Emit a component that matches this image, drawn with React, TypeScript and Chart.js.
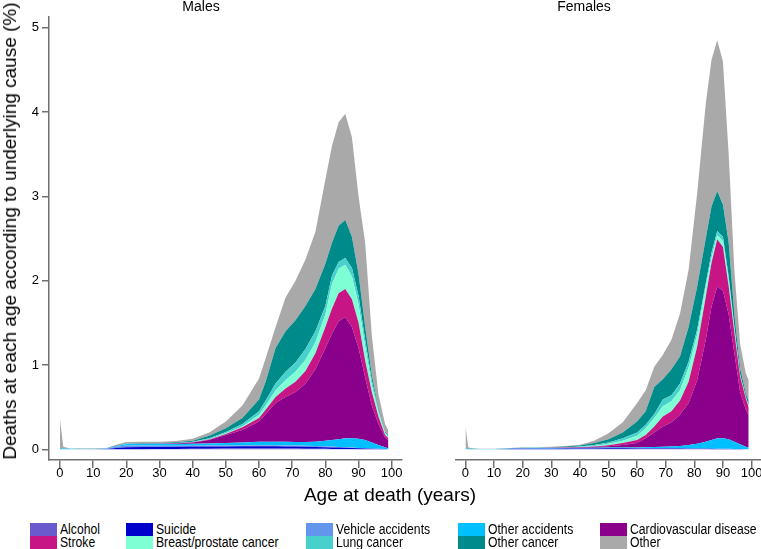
import React, { useEffect, useRef } from 'react';
import { Chart, registerables } from 'chart.js';
Chart.register(...registerables);

// ---------- data ----------
const CAUSES = ['Alcohol', 'Suicide', 'Vehicle accidents', 'Other accidents', 'Cardiovascular disease', 'Stroke', 'Breast/prostate cancer', 'Lung cancer', 'Other cancer', 'Other'];
const COLORS = ['#6A5ACD', '#0000CD', '#6495ED', '#00BFFF', '#8B008B', '#C71585', '#7FFFD4', '#48D1CC', '#008B8B', '#A9A9A9'];
const X_TICKS = [0, 10, 20, 30, 40, 50, 60, 70, 80, 90, 100];
const Y_TICKS = [0, 1, 2, 3, 4, 5];

const AGES_M = [0, 1, 3, 5, 10, 14, 17, 20, 25, 30, 35, 40, 45, 50, 55, 60, 62, 65, 68, 71, 74, 77, 80, 82, 84, 86, 88, 90, 92, 94, 96, 98, 99];
const M_ALCOHOL = [0, 0, 0, 0, 0, 0, 0, .001, .001, .002, .003, .005, .007, .009, .01, .01, .01, .01, .009, .008, .007, .006, .005, .004, .003, .002, .002, .001, .001, 0, 0, 0, 0];
const M_SUICIDE = [0, 0, 0, 0, .001, .004, .015, .024, .027, .026, .027, .027, .026, .025, .025, .025, .025, .025, .025, .024, .023, .022, .02, .018, .017, .015, .012, .01, .007, .006, .004, .002, .001];
const M_VEHICLE = [.002, .002, .001, .001, .001, .003, .015, .02, .017, .014, .012, .011, .011, .011, .011, .012, .012, .012, .012, .012, .012, .012, .011, .01, .008, .007, .006, .005, .004, .002, .002, .001, .001];
const M_OTHER_ACC = [.008, .006, .004, .003, .002, .003, .01, .017, .02, .02, .021, .023, .026, .03, .034, .043, .043, .043, .044, .041, .043, .05, .064, .078, .092, .106, .11, .109, .098, .072, .044, .022, .008];
const M_CVD = [0, 0, 0, 0, 0, 0, .001, .002, .002, .004, .007, .014, .04, .095, .15, .24, .33, .46, .53, .595, .695, .86, 1.1, 1.26, 1.4, 1.44, 1.32, 1.075, .74, .44, .25, .115, .1];
const M_STROKE = [0, 0, 0, 0, 0, 0, 0, 0, .001, .001, .002, .003, .005, .01, .03, .04, .05, .07, .1, .12, .15, .19, .25, .3, .33, .33, .33, .3, .2, .16, .09, .03, .02];
const M_BREAST_PROSTATE = [0, 0, 0, 0, 0, 0, 0, .001, .001, .001, .001, .002, .005, .01, .01, .04, .05, .08, .1, .12, .13, .13, .15, .29, .29, .29, .27, .22, .17, .08, .05, .02, .01];
const M_LUNG = [0, 0, 0, 0, 0, 0, 0, 0, 0, .001, .001, .003, .01, .015, .03, .04, .06, .08, .1, .11, .13, .13, .1, .1, .08, .08, .1, .1, .08, .06, .02, .01, .01];
const M_OTHER_CANCER = [.005, .004, .002, .002, .002, .002, .004, .005, .006, .007, .009, .014, .03, .045, .07, .14, .22, .42, .48, .5, .51, .5, .5, .39, .43, .45, .37, .26, .15, .06, .02, .01, .01];
const M_OTHER = [.335, .018, .003, .002, .002, .004, .01, .015, .015, .012, .014, .023, .04, .08, .15, .25, .28, .25, .4, .47, .55, .68, 1.0, 1.15, 1.23, 1.26, 1.18, .92, 1.0, .47, .17, .09, .06];

const AGES_F = [0, 1, 3, 5, 10, 14, 17, 20, 25, 30, 35, 40, 45, 50, 55, 60, 63, 66, 69, 72, 75, 78, 81, 84, 86, 88, 90, 92, 94, 96, 98, 99];
const F_ALCOHOL = [0, 0, 0, 0, 0, 0, 0, 0, 0, .001, .001, .002, .003, .004, .004, .004, .004, .004, .003, .003, .003, .002, .002, .002, .001, .001, .001, .001, 0, 0, 0, 0];
const F_SUICIDE = [0, 0, 0, 0, 0, .002, .005, .006, .006, .006, .007, .007, .007, .007, .007, .006, .006, .005, .006, .005, .005, .005, .004, .003, .004, .003, .003, .002, .003, .002, .001, .001];
const F_VEHICLE = [.001, .001, .001, .001, .001, .002, .004, .005, .004, .003, .003, .003, .003, .003, .003, .003, .003, .003, .003, .003, .003, .003, .003, .003, .002, .002, .002, .002, .001, .001, .001, .001];
const F_OTHER_ACC = [.007, .005, .003, .002, .002, .002, .003, .003, .004, .004, .004, .004, .005, .006, .007, .009, .011, .014, .018, .023, .029, .04, .056, .082, .103, .124, .124, .115, .086, .057, .028, .018];
const F_CVD = [0, 0, 0, 0, 0, 0, 0, .001, .001, .002, .003, .004, .008, .015, .029, .053, .106, .174, .24, .286, .37, .5, .755, 1.21, 1.58, 1.8, 1.75, 1.48, 1.05, .62, .44, .39];
const F_STROKE = [0, 0, 0, 0, 0, 0, 0, 0, .001, .001, .002, .003, .006, .013, .025, .035, .04, .07, .12, .13, .17, .25, .4, .51, .52, .56, .52, .33, .24, .18, .13, .09];
const F_BREAST_PROSTATE = [0, 0, 0, 0, 0, 0, 0, 0, .001, .002, .003, .004, .008, .017, .025, .05, .08, .1, .12, .12, .12, .17, .14, .12, .06, .05, .07, .07, .04, .01, .01, .01];
const F_LUNG = [0, 0, 0, 0, 0, 0, 0, 0, 0, .001, .002, .005, .01, .015, .03, .04, .04, .05, .08, .07, .08, .07, .06, .04, .06, .05, .05, .05, .03, .02, .01, .01];
const F_OTHER_CANCER = [.004, .003, .001, .001, .001, .002, .003, .003, .004, .005, .007, .013, .025, .04, .07, .13, .16, .32, .24, .31, .32, .41, .51, .53, .55, .47, .38, .4, .15, .07, .04, .05];
const F_OTHER = [.258, .011, .003, .002, .002, .003, .003, .004, .004, .005, .006, .01, .025, .07, .12, .22, .25, .24, .29, .35, .51, .68, 1.11, 1.6, 1.74, 1.79, 1.7, 1.05, .52, .29, .24, .25];

const MALE_SERIES = [M_ALCOHOL, M_SUICIDE, M_VEHICLE, M_OTHER_ACC, M_CVD, M_STROKE, M_BREAST_PROSTATE, M_LUNG, M_OTHER_CANCER, M_OTHER];
const FEMALE_SERIES = [F_ALCOHOL, F_SUICIDE, F_VEHICLE, F_OTHER_ACC, F_CVD, F_STROKE, F_BREAST_PROSTATE, F_LUNG, F_OTHER_CANCER, F_OTHER];

// ---------- styles ----------
const FONT = "'Liberation Sans', Arial, sans-serif";
const AXIS = '#707070';

type PanelProps = {
  ages: number[];
  series: number[][];
  title: string;
  showY: boolean;
  left: number;
  width: number;
  height: number;
  xMin: number;
  xMax: number;
  padLeft: number;
  padRight: number;
};

function Panel(p: PanelProps) {
  const ref = useRef<HTMLCanvasElement | null>(null);
  useEffect(() => {
    if (!ref.current) return;
    const datasets = p.series.map((vals, i) => ({
      label: CAUSES[i],
      data: p.ages.map((a, j) => ({ x: a, y: vals[j] })),
      backgroundColor: COLORS[i],
      borderColor: COLORS[i],
      borderWidth: 0,
      pointRadius: 0,
      tension: 0,
      fill: i === 0 ? 'origin' : '-1',
    }));
    const chart = new Chart(ref.current, {
      type: 'line',
      data: { datasets } as any,
      options: {
        animation: false,
        responsive: false,
        maintainAspectRatio: false,
        layout: { padding: { left: p.padLeft, right: p.padRight, top: 0, bottom: 0 } },
        plugins: {
          legend: { display: false },
          tooltip: { enabled: false },
          title: {
            display: true,
            text: p.title,
            color: '#000',
            font: { family: FONT, size: 14, weight: 'normal', lineHeight: 1 },
            padding: { top: 0, bottom: 3 },
          },
        },
        scales: {
          x: {
            type: 'linear',
            min: p.xMin,
            max: p.xMax,
            afterBuildTicks: (s: any) => { s.ticks = X_TICKS.map((v) => ({ value: v })); },
            afterFit: (s: any) => { s.height = 30; },
            grid: { display: true, drawOnChartArea: false, drawTicks: true, tickLength: 8, color: AXIS, lineWidth: 1.5 },
            border: { display: true, color: AXIS, width: 1.5 },
            ticks: { color: '#000', font: { family: FONT, size: 13 }, padding: -2, maxRotation: 0, autoSkip: false },
          },
          y: {
            type: 'linear',
            stacked: true,
            display: p.showY,
            min: -0.127,
            max: 5.127,
            afterBuildTicks: (s: any) => { s.ticks = Y_TICKS.map((v) => ({ value: v })); },
            afterFit: (s: any) => { s.width = 49; },
            grid: { display: true, drawOnChartArea: false, drawTicks: true, tickLength: 7, color: AXIS, lineWidth: 1.5 },
            border: { display: true, color: AXIS, width: 1.5 },
            ticks: { color: '#000', font: { family: FONT, size: 13 }, padding: 3 },
          },
        },
      } as any,
    });
    return () => chart.destroy();
  }, []);
  return (
    <canvas
      ref={ref}
      width={p.width}
      height={p.height}
      style={{ position: 'absolute', left: p.left, top: 0, width: p.width, height: p.height }}
    />
  );
}

const LEGEND_COLS = [30, 126, 306, 458, 600];
const LEGEND_ROWS = [523, 536];

export default function App() {
  return (
    <div style={{ position: 'fixed', left: 0, top: 0, width: 761, height: 549, background: '#fff', overflow: 'hidden' }}>
      <Panel ages={AGES_M} series={MALE_SERIES} title="Males" showY={true} left={0} width={404} height={490} xMin={-3.31} xMax={103.1} padLeft={0} padRight={2} />
      <Panel ages={AGES_F} series={FEMALE_SERIES} title="Females" showY={false} left={404} width={357} height={490} xMin={-3.31} xMax={103.3} padLeft={3} padRight={0} />
      <div style={{ position: 'absolute', left: 10, top: 231, transform: 'translate(-50%, -50%) rotate(-90deg)', whiteSpace: 'nowrap', fontFamily: FONT, fontSize: 19, lineHeight: '20px', color: '#000' }}>
        Deaths at each age according to underlying cause (%)
      </div>
      <div style={{ position: 'absolute', left: 390, top: 484, transform: 'translateX(-50%)', whiteSpace: 'nowrap', fontFamily: FONT, fontSize: 19, lineHeight: '22px', color: '#000' }}>
        Age at death (years)
      </div>
      {CAUSES.map((c, i) => {
        const col = i % 5;
        const row = Math.floor(i / 5);
        return (
          <div key={c} style={{ position: 'absolute', left: LEGEND_COLS[col], top: LEGEND_ROWS[row], height: 13, display: 'flex', alignItems: 'center', whiteSpace: 'nowrap' }}>
            <div style={{ width: 27, height: 13, background: COLORS[i] }} />
            <span style={{ display: 'inline-block', marginLeft: 3, fontFamily: FONT, fontSize: 14, lineHeight: '13px', color: '#000', transform: 'scaleX(0.87)', transformOrigin: 'left center' }}>{c}</span>
          </div>
        );
      })}
    </div>
  );
}
